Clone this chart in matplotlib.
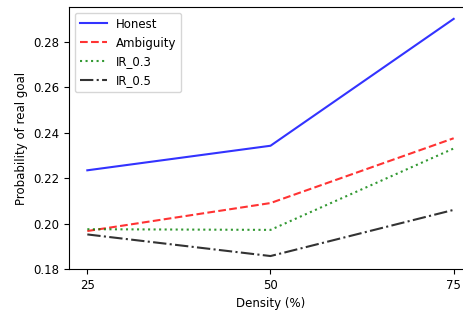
import numpy as np
import matplotlib
matplotlib.use('Agg')
import matplotlib.pyplot as plt

density = [25, 50, 75]
honest = [0.2234, 0.2342, 0.2900]
ambiguity = [0.1967, 0.2090, 0.2375]
ir_03 = [0.1975, 0.1972, 0.2330]
ir_05 = [0.1952, 0.1857, 0.2060]

plt.rcParams['font.size'] = 8.5
fig = plt.figure(figsize=(4.64, 3.14), dpi=100)
ax = fig.add_axes([69/464, 45/314, 403/464, 262/314])

ax.plot(density, honest, 'b-', alpha=0.8, label='Honest')
ax.plot(density, ambiguity, 'r--', alpha=0.8, label='Ambiguity')
ax.plot(density, ir_03, 'g:', alpha=0.8, label='IR_0.3')
ax.plot(density, ir_05, 'k-.', alpha=0.8, label='IR_0.5')

ax.set_xticks(density)
ax.set_yticks([0.18, 0.20, 0.22, 0.24, 0.26, 0.28])
ax.set_xlabel('Density (%)')
ax.set_ylabel('Probability of real goal')
ax.legend(loc='upper left', handlelength=2.3)

fig.savefig('out.png', dpi=100)
